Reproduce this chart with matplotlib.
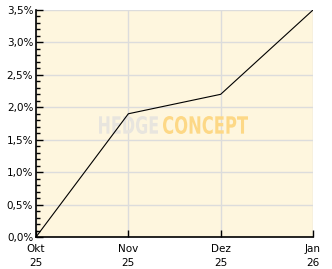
import matplotlib
matplotlib.use("Agg")
import matplotlib.pyplot as plt
from matplotlib.ticker import MultipleLocator, FuncFormatter
from matplotlib.textpath import TextPath
from matplotlib.patches import PathPatch
from matplotlib.font_manager import FontProperties
from matplotlib.transforms import Affine2D, IdentityTransform

# data
months = ["Okt\n25", "Nov\n25", "Dez\n25", "Jan\n26"]
perf = [0.0, 1.9, 2.2, 3.5]

W, H = 332, 269
fig = plt.figure(figsize=(W / 100, H / 100), dpi=100)
ax = fig.add_axes([36 / W, 32 / H, 277 / W, 227 / H])
ax.set_facecolor("#fef6de")

x = list(range(len(months)))
ax.plot(x, perf, color="black", lw=0.8, zorder=3)

ax.set_xlim(0, len(months) - 1)
ax.set_ylim(0, 3.5)
ax.set_xticks(x)
ax.set_xticklabels(months, fontsize=7.5, linespacing=1.5)
ax.yaxis.set_major_locator(MultipleLocator(0.5))
ax.yaxis.set_minor_locator(MultipleLocator(0.1))
ax.yaxis.set_major_formatter(FuncFormatter(lambda v, p: f"{v:.1f}%".replace(".", ",")))
ax.tick_params(axis="y", labelsize=7.5, direction="in", length=5, width=1, pad=2)
ax.tick_params(axis="y", which="minor", direction="in", length=3, width=1)
ax.tick_params(axis="x", direction="in", length=5, width=1, pad=5)

ax.grid(True, color="#dcdcdc", lw=1)
ax.set_axisbelow(True)
for s in ["top", "right"]:
    ax.spines[s].set_visible(False)
for s in ["left", "bottom"]:
    ax.spines[s].set_color("black")
    ax.spines[s].set_linewidth(1.2)


# watermark, squeezed into a pixel box (x0, x1, top, bottom measured from top)
def stamp(word, x0, x1, top, bottom, color):
    tp = TextPath((0, 0), word, size=1, prop=FontProperties(family="DejaVu Sans", weight="bold"))
    ext = tp.get_extents()
    sx = (x1 - x0) / ext.width
    sy = (bottom - top) / ext.height
    tr = Affine2D().translate(-ext.x0, -ext.y0).scale(sx, sy).translate(x0, H - bottom)
    patch = PathPatch(tp, transform=tr + IdentityTransform(), color=color, lw=0,
                      zorder=2, clip_on=False)
    ax.add_artist(patch)


stamp("HEDGE", 99, 158, 116, 134, "#e8e5de")
stamp("CONCEPT", 163, 248, 116, 134, "#fdd886")

fig.savefig("out.png", dpi=100)
